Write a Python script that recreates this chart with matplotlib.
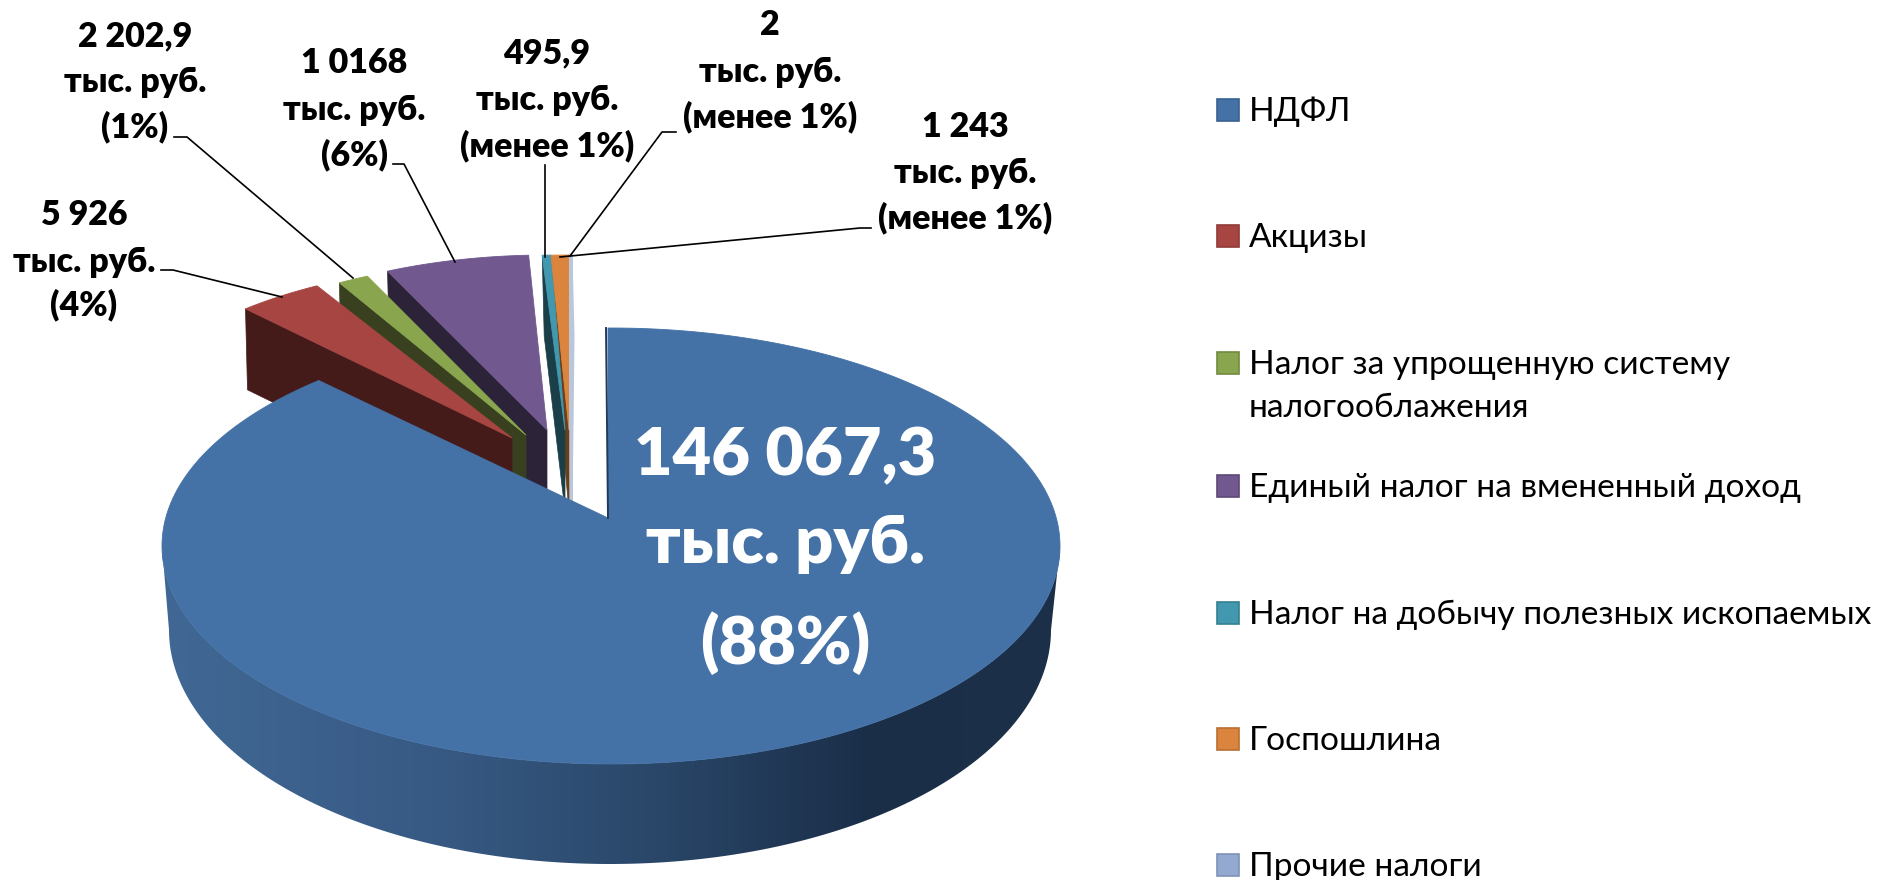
import numpy as np
import matplotlib
matplotlib.use('Agg')
import matplotlib.pyplot as plt
from matplotlib.colors import LinearSegmentedColormap
from matplotlib.patches import Polygon, Rectangle

plt.rcParams['font.family'] = ['Lato', 'Noto Sans', 'DejaVu Sans']

categories = ['НДФЛ', 'Акцизы', 'Налог за упрощенную систему\nналогооблажения',
              'Единый налог на вмененный доход', 'Налог на добычу полезных ископаемых',
              'Госпошлина', 'Прочие налоги']
values = [146067.3, 5926, 2202.9, 10168, 495.9, 1243, 2]
value_labels = ['146 067,3\nтыс. руб.\n(88%)', '5 926\nтыс. руб.\n(4%)', '2 202,9\nтыс. руб.\n(1%)',
                '1 0168\nтыс. руб.\n(6%)', '495,9\nтыс. руб.\n(менее 1%)',
                '2\nтыс. руб.\n(менее 1%)', '1 243\nтыс. руб.\n(менее 1%)']

top_colors = ['#4471A6', '#A64542', '#89A54E', '#71588F', '#4198AF', '#DB843D', '#B9C6DC']
side_colors = ['#1B2F4A', '#451B19', '#384020', '#2D2339', '#1B3F49', '#6A3F1C', '#B9C6DC']
edge_colors = ['#3A6191', '#8E3A38', '#728A40', '#5E4977', '#367F92', '#B96F32', '#7F93B8']

# where each small slice sits after the explode
apex_x = [None, 512, 526, 547, 565, 569, 571]
apex_y = [None, 438, 435, 430, 430, 430, 430]
rim_a = [None, 395, 378, 380, 471, 382, 50]
angle_shift = [0, -1, -1, -1, -1, 0, 0]
rim_b = 175
depth = 81
k = 0.45

fig = plt.figure(figsize=(18.84, 8.8), dpi=100)
ax = fig.add_axes([0, 0, 1, 1])
ax.set_xlim(0, 1884)
ax.set_ylim(880, 0)
ax.axis('off')

angles = 90 - np.concatenate([[0], np.cumsum(values)]) / np.sum(values) * 360


def blue_rim(t1, t2):
    # ray from the blue apex out to the top ellipse, the apex is off centre because of perspective
    px, py = 608, 518
    cx, cy, a, b = 611, 546, 449, 218
    pts = []
    for t in np.radians(np.linspace(t1, t2, 300)):
        dx, dy = np.cos(t), -k * np.sin(t)
        qa = dx ** 2 / a ** 2 + dy ** 2 / b ** 2
        qb = 2 * ((px - cx) * dx / a ** 2 + (py - cy) * dy / b ** 2)
        qc = (px - cx) ** 2 / a ** 2 + (py - cy) ** 2 / b ** 2 - 1
        s = (-qb + np.sqrt(qb ** 2 - 4 * qa * qc)) / (2 * qa)
        pts.append((px + s * dx, py + s * dy))
    return pts


def small_rim(i, t1, t2):
    t = np.radians(np.linspace(t1, t2, 40))
    return list(zip(apex_x[i] + rim_a[i] * np.cos(t), apex_y[i] - rim_b * np.sin(t)))


# small slices, side faces first so the tops lie over them
rims = {}
for i in range(len(values) - 1, 0, -1):
    t1 = angles[i] + angle_shift[i]
    t2 = angles[i + 1] + angle_shift[i]
    rims[i] = small_rim(i, t1, t2)
    tip = rims[i][0]
    ax.add_patch(Polygon([(apex_x[i], apex_y[i]), tip, (tip[0] + 2, tip[1] + depth),
                          (apex_x[i], apex_y[i] + depth)],
                         fc=side_colors[i], ec=side_colors[i], lw=2.2 if i == 6 else 0.5, zorder=2))
for i in range(1, len(values)):
    ax.add_patch(Polygon([(apex_x[i], apex_y[i])] + rims[i], fc=top_colors[i], ec=top_colors[i],
                         lw=2.2 if i == 6 else 0.6, zorder=3))

# blue slice: shaded wall, then the flat top
wall_t = np.radians(np.linspace(180, 360, 200))
wall = list(zip(610 + 441 * np.cos(wall_t), 630 - 234 * np.sin(wall_t)))
top_t = np.radians(np.linspace(0, -180, 200))
wall += list(zip(611 + 449 * np.cos(top_t), 546 - 218 * np.sin(top_t)))
wall_patch = Polygon(wall, fc='none', ec='none', transform=ax.transData, zorder=4)
ax.add_patch(wall_patch)
wall_cmap = LinearSegmentedColormap.from_list('wall', [(0, '#416895'), (0.3, '#375A84'),
                                                       (0.55, '#2A4769'), (0.79, '#1A2E48'),
                                                       (1, '#1C3049')])
shade = ax.imshow(np.linspace(0, 1, 400).reshape(1, -1), cmap=wall_cmap, aspect='auto',
                  extent=(161, 1060, 880, 500), zorder=4)
shade.set_clip_path(wall_patch)
ax.set_xlim(0, 1884)
ax.set_ylim(880, 0)

blue_pts = blue_rim(angles[0], angles[1])
ax.add_patch(Polygon([(608, 518)] + blue_pts, fc=top_colors[0], ec=top_colors[0], lw=0.6, zorder=5))
ax.plot([606, 608], [328, 518], color='#1F3A5C', lw=1.4, zorder=6)

# leader lines
leader_x = [[161, 173, 282], [174, 187, 353], [393, 404, 455], [545, 545], [676, 662, 570], [871, 860, 560]]
leader_y = [[270, 270, 297], [137, 137, 278], [164, 164, 262], [165, 257], [132, 132, 256], [228, 228, 257]]
for lx, ly in zip(leader_x, leader_y):
    ax.plot(lx, ly, color='black', lw=1.2, zorder=7)

# value labels
label_x = [785, 84, 135, 354, 547, 770, 965]
label_y = [[456, 543, 643], [215, 262, 305], [36, 82, 127], [63, 110, 155], [53, 100, 146],
           [25, 72, 117], [127, 173, 218]]
for i, lab in enumerate(value_labels):
    for line, y in zip(lab.split('\n'), label_y[i]):
        ax.text(label_x[i], y, line, ha='center', va='center', fontweight='heavy',
                color='white' if i == 0 else 'black', fontsize=48 if i == 0 else 24.5, zorder=8)

# legend
legend_y = [110, 236, 363, 486, 613, 739, 865]
legend_colors = ['#4471A6', '#A64542', '#89A54E', '#71588F', '#4198AF', '#DB843D', '#93A9CF']
for name, y, c, e in zip(categories, legend_y, legend_colors, edge_colors):
    ax.add_patch(Rectangle((1217, y - 11), 22, 22, fc=c, ec=e, lw=1.2, zorder=3))
    parts = name.split('\n')
    for n, part in enumerate(parts):
        ax.text(1249, y + 2 + n * 43, part, ha='left', va='center', fontsize=24.1, color='black')

fig.savefig('out.png', dpi=100)
